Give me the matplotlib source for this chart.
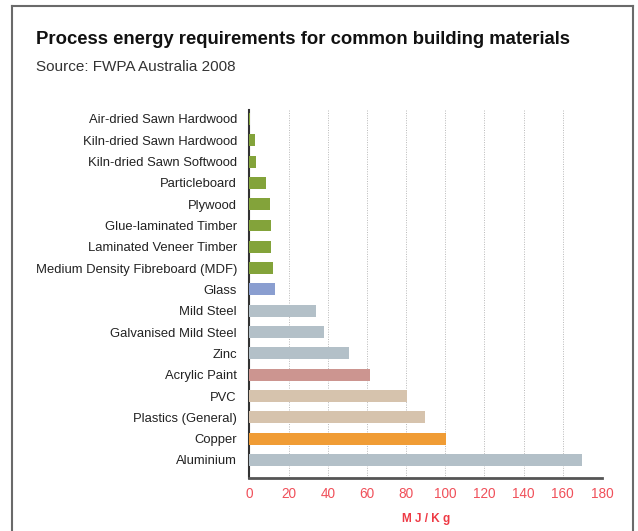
import matplotlib

matplotlib.use("Agg")
import matplotlib.pyplot as plt

plt.rcParams["font.family"] = ["Liberation Sans", "DejaVu Sans"]

# Materials, top to bottom as drawn
materials = [
    "Air-dried Sawn Hardwood",
    "Kiln-dried Sawn Hardwood",
    "Kiln-dried Sawn Softwood",
    "Particleboard",
    "Plywood",
    "Glue-laminated Timber",
    "Laminated Veneer Timber",
    "Medium Density Fibreboard (MDF)",
    "Glass",
    "Mild Steel",
    "Galvanised Mild Steel",
    "Zinc",
    "Acrylic Paint",
    "PVC",
    "Plastics (General)",
    "Copper",
    "Aluminium",
]
energy_mj_kg = [0.3, 2.8, 3.4, 8.5, 10.4, 11, 11, 12, 13, 34, 38, 51, 61.5, 80.5, 89.6, 100.5, 170]
groups = ["wood"] * 8 + ["glass", "metal", "metal", "metal", "paint", "plastic", "plastic", "copper", "metal"]

group_colors = {
    "wood": "#83a33a",
    "glass": "#8a9ed0",
    "metal": "#b3c0c8",
    "paint": "#cc9590",
    "plastic": "#d6c3ad",
    "copper": "#f09c35",
}
x_ticks = list(range(0, 181, 20))

fig = plt.figure(figsize=(6.38, 5.31), dpi=100)
ax = fig.add_axes([0.391, 0.1004, 0.5525, 0.6925])

# outer frame (open at the bottom)
frame = dict(transform=fig.transFigure, color="#6a6a6a", lw=1.5)
top = 1 - 5.5 / 531
fig.add_artist(plt.Line2D([12 / 638, 12 / 638], [0, top], **frame))
fig.add_artist(plt.Line2D([633 / 638, 633 / 638], [0, top], **frame))
fig.add_artist(plt.Line2D([12 / 638, 633 / 638], [top, top], **frame))

y = list(range(len(materials)))
colors = [group_colors[g] for g in groups]
ax.barh(y, energy_mj_kg, height=0.56, color=colors, zorder=3)

ax.set_ylim(len(materials) - 1 + 0.83, -0.42)
ax.set_xlim(0, 180)
ax.set_yticks(y)
ax.set_yticklabels(materials, fontsize=9.4, color="#222222")
ax.set_xticks(x_ticks)
ax.set_xticklabels([str(t) for t in x_ticks], fontsize=9.8, color="#f0505a")
ax.tick_params(axis="y", length=0, pad=9)
ax.tick_params(axis="x", length=0, pad=7)

ax.grid(axis="x", linestyle=(0, (1, 1.5)), color="#b8b8b8", lw=0.7, zorder=0)
for s in ["top", "right"]:
    ax.spines[s].set_visible(False)
ax.spines["left"].set_color("#333333")
ax.spines["left"].set_linewidth(1.5)
ax.spines["bottom"].set_color("#555555")
ax.spines["bottom"].set_linewidth(2)

ax.set_xlabel("M J / K g", fontsize=8.5, fontweight="bold", color="#ee3a45", labelpad=8)

fig.text(36 / 638, 1 - 40 / 531, "Process energy requirements for common building materials",
         fontsize=13.3, fontweight="bold", color="#111111", va="center")
fig.text(36 / 638, 1 - 67 / 531, "Source: FWPA Australia 2008",
         fontsize=11, color="#333333", va="center")

fig.savefig("out.png", dpi=100)
